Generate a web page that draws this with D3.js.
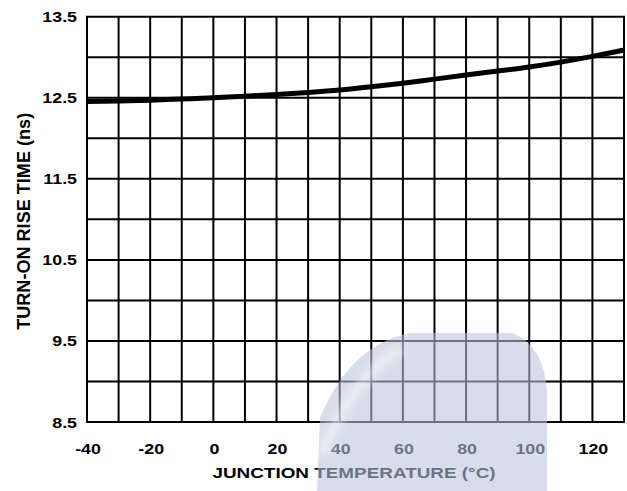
<!DOCTYPE html>
<html><head><meta charset="utf-8">
<script src="https://cdn.jsdelivr.net/npm/d3@7"></script>
<style>body{margin:0;background:#fff}svg{display:block}text{font-family:"Liberation Sans",Arial,sans-serif;font-weight:bold;fill:#000}</style>
</head><body>
<script>
const temps = [-40,-30,-20,-10,0,10,20,30,40,50,60,70,80,90,100,110,120,130];
const riseTime = [12.455,12.46,12.47,12.485,12.5,12.52,12.54,12.565,12.595,12.635,12.68,12.73,12.78,12.83,12.88,12.94,13.01,13.09];
const xTicks = [-40,-20,0,20,40,60,80,100,120];
const yTicks = [8.5,9.5,10.5,11.5,12.5,13.5];
const xGrid = d3.range(-40,131,10);
const yGrid = d3.range(8.5,13.51,0.5);

const W=627,H=491, m={l:87,r:3,t:16.7,b:69};
const svg=d3.select("body").append("svg").attr("width",W).attr("height",H);
const x=d3.scaleLinear().domain([-40,130]).range([m.l,W-m.r]);
const y=d3.scaleLinear().domain([8.5,13.5]).range([H-m.b,m.t]);

const defs=svg.append("defs");
defs.append("filter").attr("id","soft").append("feGaussianBlur").attr("stdDeviation",4);

svg.append("g").selectAll("line").data(xGrid).join("line")
 .attr("x1",d=>x(d)).attr("x2",d=>x(d)).attr("y1",y(8.5)).attr("y2",y(13.5))
 .attr("stroke","#000").attr("stroke-width",2);
svg.append("g").selectAll("line").data(yGrid).join("line")
 .attr("y1",d=>y(d)).attr("y2",d=>y(d)).attr("x1",x(-40)-1).attr("x2",x(130)+1)
 .attr("stroke","#000").attr("stroke-width",2);

const line=d3.line().x((d,i)=>x(temps[i])).y(d=>y(d)).curve(d3.curveMonotoneX);
svg.append("path").datum(riseTime).attr("d",line).attr("fill","none")
 .attr("stroke","#000").attr("stroke-width",5);

svg.append("g").selectAll("text").data(yTicks).join("text")
 .attr("transform",d=>`translate(${x(-40)-10},${y(d)+5.5}) scale(1.15,1)`)
 .attr("text-anchor","end").attr("font-size",15.5).text(d=>d.toFixed(1));
svg.append("g").selectAll("text").data(xTicks).join("text")
 .attr("transform",d=>`translate(${x(d)+1},${H-m.b+32}) scale(1.15,1)`)
 .attr("text-anchor","middle").attr("font-size",15.5).text(d=>d);
svg.append("text").attr("transform",`translate(354,${H-m.b+56}) scale(1.22,1)`)
 .attr("text-anchor","middle").attr("font-size",15.5).text("JUNCTION TEMPERATURE (°C)");
svg.append("text").attr("transform",`translate(30,${(y(8.5)+y(13.5))/2+2}) rotate(-90) scale(1,1.2)`)
 .attr("text-anchor","middle").attr("font-size",15.5).attr("textLength",217).attr("lengthAdjust","spacingAndGlyphs")
 .text("TURN-ON RISE TIME (ns)");

// faint background watermark
svg.append("path").attr("d","M317 491 L320 418 Q350 345 410 333 L512 333 Q544 345 547 392 L547 491 Z")
 .attr("fill","#bcc5dc").attr("opacity",0.58);
svg.append("path").attr("d","M322 455 Q350 380 402 348")
 .attr("fill","none").attr("stroke","#fff").attr("stroke-width",8).attr("opacity",0.6)
 .attr("filter","url(#soft)");
</script>
</body></html>
